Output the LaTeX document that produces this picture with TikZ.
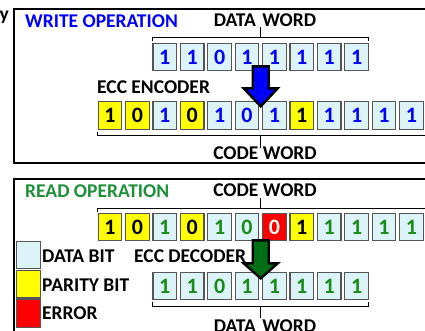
\documentclass[tikz,border=0pt]{standalone}
\usepackage{fontspec}
\setmainfont{Carlito}
\usepackage{xcolor}
\usetikzlibrary{calc,positioning}

\definecolor{bitblue}{HTML}{DCF4F8}
\definecolor{bityellow}{HTML}{FFFF00}
\definecolor{bitred}{HTML}{FF0000}
\definecolor{bitgray}{HTML}{555555}
\definecolor{bitgreen}{HTML}{1A8A1A}
\definecolor{readgreen}{HTML}{1F8F3A}
\definecolor{arrowgreen}{HTML}{006E14}

\newcommand{\bitfont}{\fontsize{22}{22}\selectfont\bfseries}
\newcommand{\lblfont}{\fontsize{19.5}{19.5}\selectfont\bfseries}

\tikzset{
  bit/.style={rectangle, draw=bitgray, line width=1.2pt, minimum width=23.5pt,
              minimum height=27.5pt, inner sep=0pt, font=\bitfont},
  par/.style={bit, fill=bityellow, text=black},
  wdat/.style={bit, fill=bitblue, text=blue},
  rdat/.style={bit, fill=bitblue, text=bitgreen},
  err/.style={bit, fill=bitred, text=white},
  lbl/.style={font=\lblfont, inner sep=0pt},
  panel/.style={draw=black, line width=1.4pt},
  brace/.style={draw=black, line width=1pt},
  fatarrow/.style={draw=black, line width=2.4pt, line join=miter}
}

\begin{document}
\begin{tikzpicture}[x=1pt, y=-1pt]
  \useasboundingbox (0,0) rectangle (425,331);
  \clip (0,0) rectangle (425,331);

  % panels
  \draw[panel] (14,9) rectangle (440,163);
  \draw[panel] (14,179) rectangle (440,345);
  \node[lbl, anchor=east] (cut) at (9,17) {y};

  % write operation
  \node[lbl, text=blue, anchor=west] (wtitle) at (25,21) {WRITE OPERATION};
  \foreach \b/\t [count=\i from 0] in {1/wdat,1/wdat,0/wdat,1/wdat,1/wdat,1/wdat,1/wdat,1/wdat}
    \node[\t] (wd\i) at ({164.8+27.4*\i},57) {\b};
  \foreach \b/\t [count=\i from 0] in {1/par,0/par,1/wdat,0/par,1/wdat,0/wdat,1/wdat,1/par,1/wdat,1/wdat,1/wdat,1/wdat}
    \node[\t] (wc\i) at ({110+27.4*\i},115.5) {\b};

  \draw[brace] ($(wd0.north west)+(0,-2)$) -- ++(0,-3) -| ($(wd7.north east)+(0,-2)$);
  \draw[brace] ($(wd3.north east)!0.5!(wd4.north west)+(0,-5)$) -- ++(0,-11);
  \node[lbl] (wdw) at (265,20) {DATA\hspace{2pt} WORD};

  \node[lbl, anchor=west] (enc) at (97,87) {ECC ENCODER};

  \draw[brace] ($(wc0.south west)+(0,2)$) -- ++(0,4) -| ($(wc11.south east)+(4,2)$);
  \draw[brace] ($(wc5.south east)!0.5!(wc6.south west)+(0,6)$) -- ++(0,12);
  \node[lbl] (wcw) at (265,153) {CODE WORD};

  \coordinate (wa) at ($(wd3.south east)!0.5!(wd4.south west)+(0,-5)$);
  \draw[fatarrow, fill=blue] (wa) ++(-8,0) -- ++(16,0) -- ++(0,22) -- ++(9,0)
    -- ++(-17,18) -- ++(-17,-18) -- ++(9,0) -- cycle;

  % read operation
  \node[lbl, text=readgreen, anchor=west] (rtitle) at (25,191) {READ OPERATION};
  \node[lbl] (rcw) at (265,190) {CODE WORD};
  \foreach \b/\t [count=\i from 0] in {1/par,0/par,1/rdat,0/par,1/rdat,0/rdat,0/err,1/par,1/rdat,1/rdat,1/rdat,1/rdat}
    \node[\t] (rc\i) at ({110+27.4*\i},227) {\b};
  \foreach \b/\t [count=\i from 0] in {1/rdat,1/rdat,0/rdat,1/rdat,1/rdat,1/rdat,1/rdat,1/rdat}
    \node[\t] (rd\i) at ({164.8+27.4*\i},286) {\b};

  \draw[brace] ($(rc0.north west)+(0,-1)$) -- ++(0,-3) -| ($(rc11.north east)+(4,-1)$);
  \draw[brace] ($(rc5.north east)!0.5!(rc6.north west)+(0,-4)$) -- ++(0,-11);

  \node[lbl, anchor=west] (dec) at (134,256) {ECC DECODER};

  \draw[brace] ($(rd0.south west)+(0,2)$) -- ++(0,4) -| ($(rd7.south east)+(0,2)$);
  \draw[brace] ($(rd3.south east)!0.5!(rd4.south west)+(0,6)$) -- ++(0,12);
  \node[lbl] (rdw) at (265,326) {DATA\hspace{2pt} WORD};

  \coordinate (ra) at ($(rc5.south east)!0.5!(rc6.south west)+(0,-1)$);
  \draw[fatarrow, fill=arrowgreen] (ra) ++(-8,0) -- ++(16,0) -- ++(0,23) -- ++(9,0)
    -- ++(-17,15) -- ++(-17,-15) -- ++(9,0) -- cycle;

  % legend
  \node[bit, fill=bitblue] (kdata) at (28.5,255) {};
  \node[bit, fill=bityellow, below=0.5pt of kdata] (kpar) {};
  \node[bit, fill=bitred, below=0.5pt of kpar] (kerr) {};
  \node[lbl, anchor=west] (ldata) at (42,256) {DATA BIT};
  \node[lbl, anchor=west] (lpar) at (42,285) {PARITY BIT};
  \node[lbl, anchor=west] (lerr) at (42,313) {ERROR};
\end{tikzpicture}
\end{document}
